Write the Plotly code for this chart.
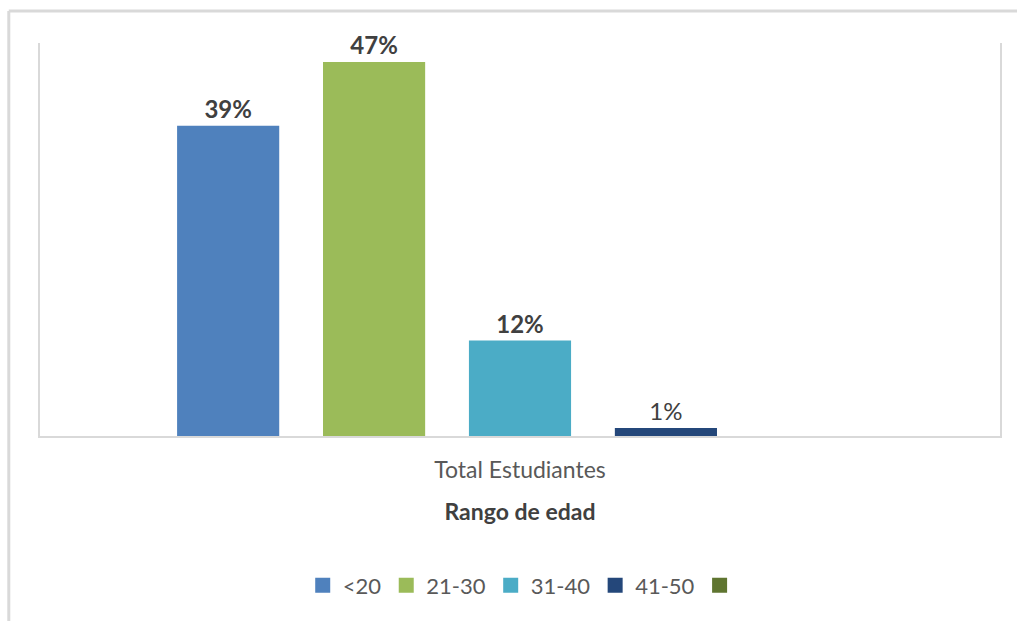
import plotly.graph_objects as go

category = ["Total Estudiantes"]
series_names = ["<20", "21-30", "31-40", "41-50", " "]
series_values = [39, 47, 12, 1, 0]
label_texts = ["<b>39%</b>", "<b>47%</b>", "<b>12%</b>", "1%", ""]
colors = ["#4F81BD", "#9BBB59", "#4BACC6", "#24477A", "#5F7530"]

FONT = "Lato, 'Open Sans', sans-serif"

fig = go.Figure()
for name, val, txt, col in zip(series_names, series_values, label_texts, colors):
    fig.add_trace(go.Bar(
        x=category, y=[val], name=name, showlegend=False,
        marker=dict(color=col, line=dict(width=0)),
        text=[txt], textposition="outside", cliponaxis=False,
        textfont=dict(size=24, color="#404040", family=FONT),
    ))
# legend entries (square swatches)
for name, col in zip(series_names, colors):
    fig.add_trace(go.Scatter(
        x=[None], y=[None], mode="markers", name=name,
        marker=dict(symbol="square", size=15, color=col),
    ))

fig.update_layout(
    width=1017, height=621,
    margin=dict(l=40, r=17, t=43, b=185),
    paper_bgcolor="white", plot_bgcolor="white",
    barmode="group", bargap=0.24, bargroupgap=0.30,
    font=dict(family=FONT, color="#595959"),
    showlegend=True,
    legend=dict(orientation="h", x=0.507, xanchor="center", y=-0.38, yanchor="middle",
                font=dict(size=22, color="#595959", family=FONT), itemwidth=30,
                traceorder="normal", itemsizing="trace"),
    xaxis=dict(showline=True, linecolor="#D9D9D9", linewidth=2, showgrid=False,
               ticks="", ticklabelstandoff=12,
               tickfont=dict(size=23, color="#595959", family=FONT),
               title=dict(text="<b>Rango de edad</b>", font=dict(size=23, color="#404040", family=FONT), standoff=22)),
    yaxis=dict(range=[0, 49.4], showline=True, mirror=True, linecolor="#D9D9D9", linewidth=2,
               showgrid=False, zeroline=False, showticklabels=False, ticks=""),
    shapes=[
        dict(type="line", xref="paper", yref="paper", x0=-0.0325, x1=1.02, y0=1.0815, y1=1.0815,
             line=dict(color="#D9D9D9", width=3)),
        dict(type="line", xref="paper", yref="paper", x0=-0.0325, x1=-0.0325, y0=1.0815, y1=-0.48,
             line=dict(color="#D9D9D9", width=3)),
    ],
)

fig.write_html("out.html")
